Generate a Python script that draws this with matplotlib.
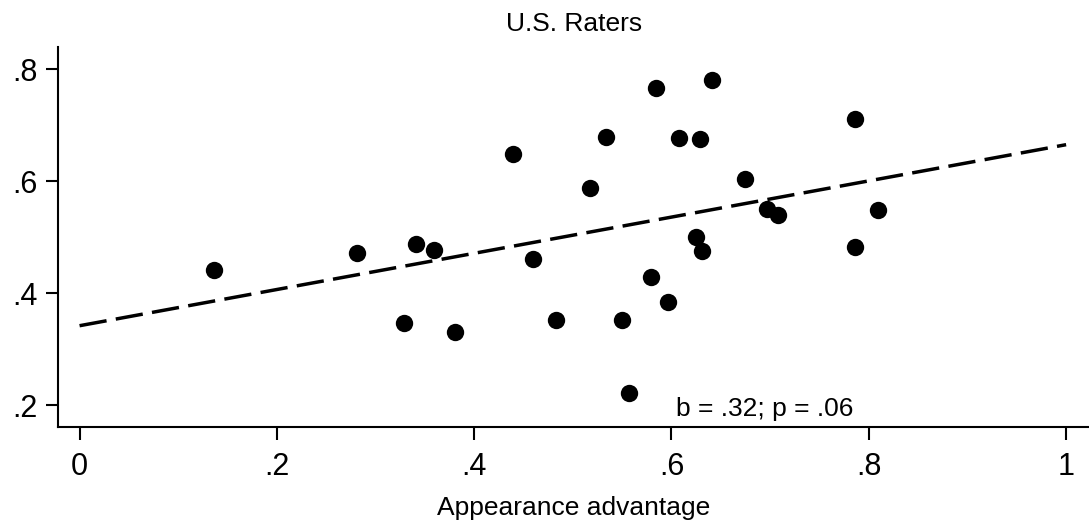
import matplotlib
matplotlib.use("Agg")
import matplotlib.pyplot as plt
import numpy as np

plt.rcParams['font.family'] = ['Liberation Sans', 'DejaVu Sans']

# Data
appearance_adv = [0.136, 0.281, 0.329, 0.341, 0.359, 0.381, 0.439, 0.460, 0.483,
                  0.517, 0.534, 0.550, 0.557, 0.579, 0.584, 0.596, 0.608, 0.625,
                  0.629, 0.631, 0.641, 0.675, 0.697, 0.708, 0.786, 0.786, 0.809]
vote_share = [0.442, 0.472, 0.346, 0.487, 0.477, 0.330, 0.648, 0.461, 0.352,
              0.587, 0.679, 0.352, 0.222, 0.429, 0.767, 0.384, 0.677, 0.500,
              0.676, 0.476, 0.780, 0.604, 0.550, 0.540, 0.711, 0.482, 0.549]
fit_intercept = 0.342
fit_slope = 0.323
fit_range = [0.0, 1.0]

x_ticks = [0, 0.2, 0.4, 0.6, 0.8, 1.0]
x_tick_labels = ['0', '.2', '.4', '.6', '.8', '1']
y_ticks = [0.2, 0.4, 0.6, 0.8]
y_tick_labels = ['.2', '.4', '.6', '.8']

title = 'U.S. Raters'
x_label = 'Appearance advantage'
annotation = 'b = .32; p = .06'

fig = plt.figure(figsize=(10.89, 5.27), dpi=100)
ax = fig.add_axes([0.0535, 0.1903, 0.9465, 0.7199])

ax.plot(appearance_adv, vote_share, 'o', color='black', markersize=12.5,
        markeredgewidth=0, zorder=3)

fx = np.array(fit_range)
ax.plot(fx, fit_intercept + fit_slope * fx, color='black', lw=2.5,
        dashes=(7.9, 2.7), zorder=2)

ax.set_xlim(-0.0216, 1.0232)
ax.set_ylim(0.1618, 0.8387)

ax.set_xticks(x_ticks)
ax.set_xticklabels(x_tick_labels)
ax.set_yticks(y_ticks)
ax.set_yticklabels(y_tick_labels)

for s in ['top', 'right']:
    ax.spines[s].set_visible(False)
for s in ['left', 'bottom']:
    ax.spines[s].set_linewidth(1.5)

ax.tick_params(axis='both', direction='out', width=1.5, labelsize=22,
               colors='black')
ax.tick_params(axis='x', length=9, pad=9)
ax.tick_params(axis='y', length=9, pad=6)

ax.set_title(title, fontsize=19, pad=12)
ax.set_xlabel(x_label, fontsize=19, labelpad=10)

ax.text(0.6046, 0.181, annotation, fontsize=19, ha='left', va='baseline')

fig.savefig('out.png', dpi=100)
